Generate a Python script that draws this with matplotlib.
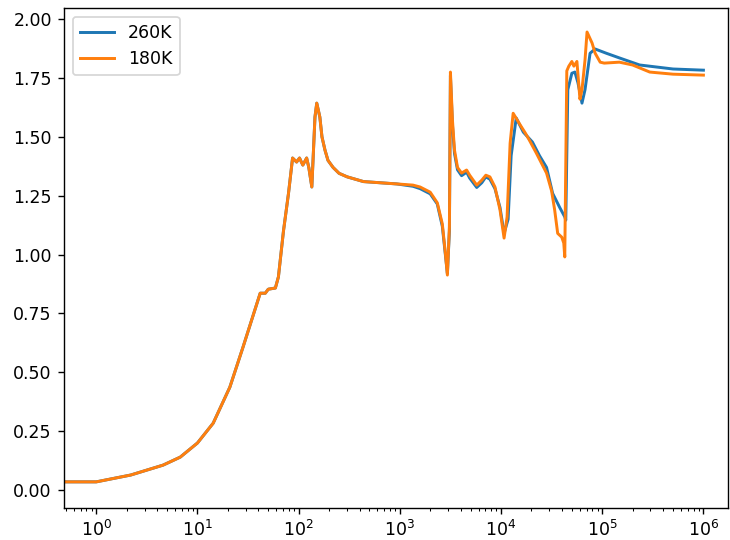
import matplotlib
matplotlib.use("Agg")
import matplotlib.pyplot as plt

# ---- data ----
x_180 = [0.316, 1.0, 2.19, 4.57, 6.76, 10.0, 14.3, 20.9, 28.2, 41.7, 46.8, 50.1, 58.9, 63.1,
         70.8, 79.4, 87.1, 95.5, 102, 110, 120, 126, 135, 145, 151, 162, 170, 182, 195, 219,
         251, 302, 437, 933, 1349, 1585, 1995, 2344, 2630, 2818, 2951, 3090, 3162, 3311, 3467,
         3715, 4074, 4571, 4898, 5754, 6457, 7079, 7762, 8710, 9772, 10720, 11480, 12300,
         13180, 15490, 17380, 19050, 22390, 28180, 31620, 33880, 36310, 39810, 41690, 42660,
         44670, 46770, 50120, 52480, 56230, 60260, 63100, 67610, 70790, 79430, 85110, 95500,
         104700, 147900, 199500, 295100, 501200, 1000000]
y_180 = [0.035, 0.035, 0.064, 0.106, 0.14, 0.20, 0.284, 0.437, 0.607, 0.836, 0.836, 0.853, 0.858,
         0.905, 1.10, 1.26, 1.41, 1.393, 1.41, 1.38, 1.41, 1.37, 1.287, 1.584, 1.643, 1.584,
         1.50, 1.444, 1.40, 1.37, 1.345, 1.33, 1.31, 1.30, 1.295, 1.287, 1.265, 1.22, 1.13,
         1.006, 0.913, 1.117, 1.775, 1.571, 1.444, 1.37, 1.346, 1.359, 1.337, 1.295, 1.316,
         1.337, 1.33, 1.287, 1.19, 1.07, 1.16, 1.473, 1.60, 1.55, 1.516, 1.486, 1.43, 1.346,
         1.27, 1.19, 1.09, 1.074, 1.049, 0.99, 1.78, 1.80, 1.82, 1.80, 1.82, 1.66, 1.70, 1.826,
         1.945, 1.898, 1.855, 1.817, 1.813, 1.817, 1.805, 1.775, 1.766, 1.762]

x_260 = [0.316, 1.0, 2.19, 4.57, 6.76, 10.0, 14.3, 20.9, 28.2, 41.7, 46.8, 50.1, 58.9, 63.1,
         70.8, 79.4, 87.1, 95.5, 102, 110, 120, 126, 135, 145, 151, 162, 170, 182, 195, 219,
         251, 302, 437, 933, 1349, 1585, 1995, 2344, 2630, 2818, 2951, 3090, 3162, 3311, 3467,
         3715, 4074, 4571, 4898, 5754, 6457, 7079, 7762, 8710, 9772, 10720, 11750, 12590,
         14130, 16600, 20420, 23990, 28180, 32360, 38020, 42660, 43650, 45710, 50120, 53700,
         57540, 63100, 67610, 75860, 85110, 109600, 147900, 234400, 501200, 1000000]
y_260 = [0.035, 0.035, 0.064, 0.106, 0.14, 0.20, 0.284, 0.437, 0.607, 0.836, 0.836, 0.853, 0.858,
         0.905, 1.10, 1.26, 1.41, 1.393, 1.41, 1.38, 1.41, 1.37, 1.287, 1.584, 1.643, 1.584,
         1.50, 1.444, 1.40, 1.37, 1.345, 1.33, 1.31, 1.30, 1.29, 1.28, 1.258, 1.215, 1.12,
         1.0, 0.92, 1.10, 1.76, 1.55, 1.43, 1.36, 1.335, 1.35, 1.325, 1.285, 1.305, 1.33,
         1.32, 1.28, 1.20, 1.09, 1.15, 1.42, 1.58, 1.52, 1.478, 1.42, 1.37, 1.26, 1.20, 1.16,
         1.146, 1.70, 1.77, 1.775, 1.73, 1.643, 1.70, 1.855, 1.873, 1.855, 1.835, 1.805,
         1.788, 1.783]

labels = ["260K", "180K"]

# ---- figure ----
DPI = 125
fig = plt.figure(figsize=(730 / DPI, 540 / DPI), dpi=DPI)
ax = fig.add_axes([64 / 730, 1 - 508 / 540, (728 - 64) / 730, (508 - 8) / 540])
ax.plot(x_260, y_260, color="#1f77b4", label=labels[0], lw=1.7)
ax.plot(x_180, y_180, color="#ff7f0e", label=labels[1], lw=1.7)
ax.set_xscale("log")
ax.set_xlim(0.48, 1.75e6)
ax.set_ylim(-0.076, 2.047)
ax.set_yticks([0.0, 0.25, 0.5, 0.75, 1.0, 1.25, 1.5, 1.75, 2.0])
ax.legend(loc="upper left")
fig.savefig("out.png", dpi=DPI)
